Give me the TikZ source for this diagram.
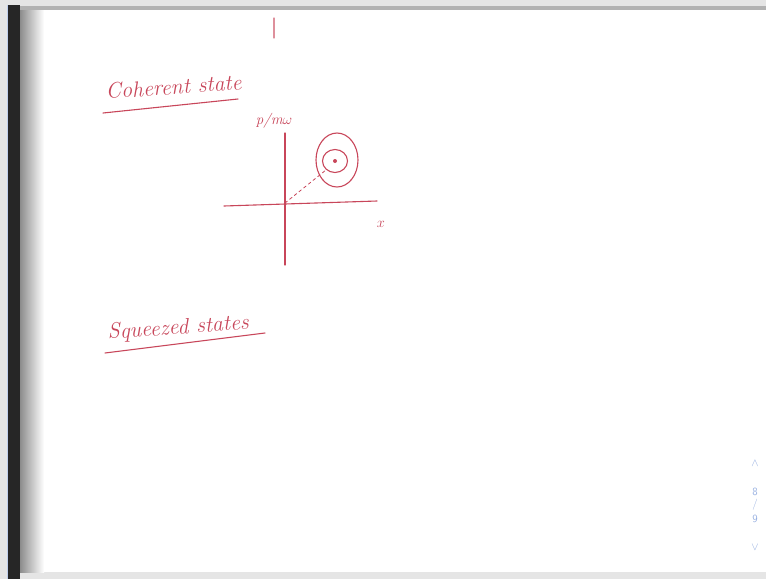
\documentclass[tikz,border=0pt]{standalone}
\usetikzlibrary{positioning, shapes.geometric}
\definecolor{ink}{RGB}{200,70,90}
\definecolor{navblue}{RGB}{150,175,225}

\begin{document}
\begin{tikzpicture}[
    x=1pt, y=-1pt,
    every node/.style={text=ink},
    stroke/.style={
        draw=ink,
        line width=1.1pt,
        line cap=round
    },
    heading/.style={
        anchor=base west,
        inner sep=0pt,
        rotate=4,
        font=\itshape\fontsize{22}{26}\selectfont
    },
    axislabel/.style={
        inner sep=0pt,
        font=\itshape\fontsize{15}{18}\selectfont
    },
    ring/.style={
        stroke,
        ellipse,
        inner sep=0pt
    },
    nav/.style={
        text=navblue,
        inner sep=0pt,
        font=\sffamily\fontsize{11}{12}\selectfont
    }
]

\useasboundingbox (0,0) rectangle (766,579);

% ============================================================
% FRAME
% ============================================================

\fill[black!10] (0,0) rectangle (766,579);
\fill[white] (20,10) rectangle (766,572);
\shade[left color=black!45, right color=white] (20,10) rectangle (44,572);
\fill[black!30] (20,6) rectangle (766,10);
\fill[black!85] (8,5) rectangle (20,579);
\fill[navblue!60] (7,5) rectangle (8,579);

% tick at the top
\draw[stroke, ink!60] (274,18) -- (274,38);

% ============================================================
% COHERENT STATE
% ============================================================

\node[heading] (coherent) at (106,99) {Coherent state};
\draw[stroke] (103,113) -- (238,99);

% axes
\coordinate (origin) at (285,203);
\draw[stroke] (285,133) -- (285,265);
\draw[stroke] (224,206) -- (377,201);

\node[axislabel] (plabel) at (274,121) {p/m$\omega$};
\node[axislabel] (xlabel) at (381,224) {$x$};

% uncertainty rings
\node[
    ring,
    minimum width=42pt,
    minimum height=54pt
] (outer) at (337,160) {};

\node[
    ring,
    minimum width=25pt,
    minimum height=23pt
] (inner) at (335,161) {};

\fill[ink] (inner.center) circle (2pt);

\draw[stroke, line width=0.8pt, dashed] (origin) -- (inner.225);

% ============================================================
% SQUEEZED STATES
% ============================================================

\node[heading] (squeezed) at (108,339) {Squeezed states};
\draw[stroke] (105,353) -- (265,333);

% ============================================================
% PAGE NAVIGATION
% ============================================================

\node[nav] (up) at (755,463) {$\wedge$};
\node[nav] (pagenum) at (755,492) {8};
\node[nav] (slash) at (755,505) {/};
\node[nav] (pagetotal) at (755,519) {9};
\node[nav] (down) at (755,547) {$\vee$};

\end{tikzpicture}
\end{document}
